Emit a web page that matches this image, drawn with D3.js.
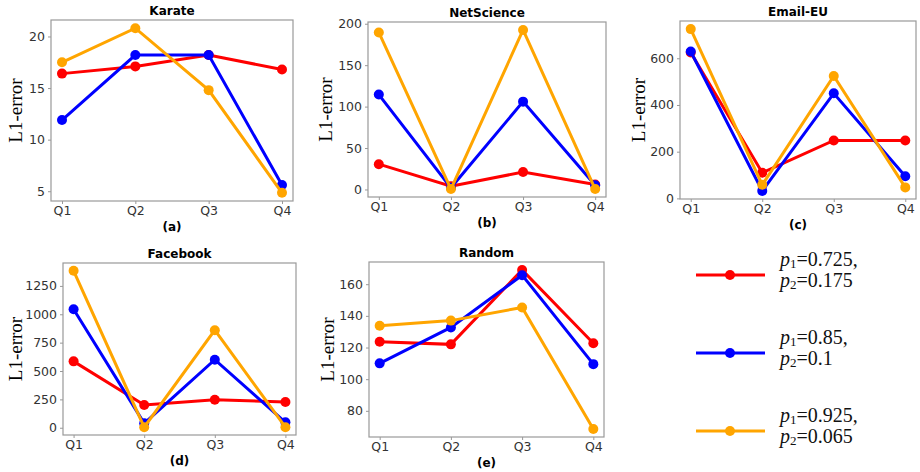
<!DOCTYPE html>
<html lang="en">
  <head>
    <meta charset="UTF-8" />
    <title>L1-error by quarter</title>
    <style>
      body {
        margin: 0;
        background: #ffffff;
      }
      .tick text {
        font-family: "DejaVu Sans", sans-serif;
        font-size: 12.5px;
        fill: #333;
      }
      .tick line,
      .domain {
        stroke: #999;
      }
    </style>
  </head>
  <body>
    <div id="chart"></div>
    <script src="https://d3js.org/d3.v7.min.js"></script>
    <script>
      // data
      const quarters = ["Q1", "Q2", "Q3", "Q4"];
      const datasets = ["Karate", "NetScience", "Email-EU", "Facebook", "Random"];
      const panelTags = ["(a)", "(b)", "(c)", "(d)", "(e)"];
      const seriesNames = [
        ["0.725", "0.175"],
        ["0.85", "0.1"],
        ["0.925", "0.065"]
      ];
      const seriesColors = ["#ff0000", "#0000ff", "#ffa500"];

      const karate = [
        [16.4, 17.1, 18.2, 16.8],
        [11.9, 18.2, 18.2, 5.6],
        [17.5, 20.8, 14.8, 4.85]
      ];
      const netScience = [
        [30.5, 4, 21, 6],
        [114.5, 2, 106, 5],
        [189.5, 0.5, 192.5, 0.5]
      ];
      const emailEU = [
        [625, 110, 248, 248],
        [629, 32, 450, 95],
        [725, 58, 524, 47]
      ];
      const facebook = [
        [585, 201, 246, 227],
        [1045, 39, 600, 48],
        [1383, 5, 860, 5]
      ];
      const random = [
        [123.7, 122, 169, 122.7],
        [110, 132.7, 165.7, 109.5],
        [133.8, 137, 145.3, 68.5]
      ];
      const allValues = [karate, netScience, emailEU, facebook, random];

      const yTicks = [
        [5, 10, 15, 20],
        [0, 50, 100, 150, 200],
        [0, 200, 400, 600],
        [0, 250, 500, 750, 1000, 1250],
        [80, 100, 120, 140, 160]
      ];

      // layout: frame of each axes box [left, top, right, bottom]
      const frames = [
        [51, 20, 293, 201],
        [368, 22, 606, 197],
        [680, 21, 916, 199],
        [63, 263, 296, 435],
        [369, 262, 604, 437]
      ];
      const labelX = [15, 325, 638, 15, 327];

      const width = 920;
      const height = 472;

      const svg = d3
        .select("#chart")
        .append("svg")
        .attr("width", width)
        .attr("height", height);

      datasets.forEach(function (name, i) {
        const [x0, y0, x1, y1] = frames[i];
        const values = allValues[i];
        const flat = values.flat();
        const lo = d3.min(flat);
        const hi = d3.max(flat);
        const pad = (hi - lo) * 0.05;

        const x = d3.scalePoint().domain(quarters).range([x0, x1]).padding(0.15);
        const y = d3.scaleLinear().domain([lo - pad, hi + pad]).range([y1, y0]);

        const g = svg.append("g");

        // frame
        g.append("rect")
          .attr("x", x0)
          .attr("y", y0)
          .attr("width", x1 - x0)
          .attr("height", y1 - y0)
          .attr("fill", "none")
          .attr("stroke", "#999")
          .attr("stroke-width", 1.2);

        g.append("g")
          .attr("transform", "translate(0," + y1 + ")")
          .call(d3.axisBottom(x).tickSize(3).tickPadding(2))
          .call((s) => s.select(".domain").remove());

        g.append("g")
          .attr("transform", "translate(" + x0 + ",0)")
          .call(
            d3
              .axisLeft(y)
              .tickValues(yTicks[i])
              .tickFormat(d3.format("d"))
              .tickSize(3)
              .tickPadding(3)
          )
          .call((s) => s.select(".domain").remove());

        // title and tag
        g.append("text")
          .attr("x", (x0 + x1) / 2)
          .attr("y", y0 - 5)
          .attr("text-anchor", "middle")
          .style("font-family", "DejaVu Sans, sans-serif")
          .style("font-weight", "bold")
          .style("font-size", "12px")
          .text(name);

        g.append("text")
          .attr("x", (x0 + x1) / 2)
          .attr("y", y1 + 30)
          .attr("text-anchor", "middle")
          .style("font-family", "DejaVu Sans, sans-serif")
          .style("font-weight", "bold")
          .style("font-size", "12px")
          .text(panelTags[i]);

        g.append("text")
          .attr(
            "transform",
            "translate(" + labelX[i] + "," + (y0 + y1) / 2 + ") rotate(-90)"
          )
          .attr("text-anchor", "middle")
          .attr("dy", "0.35em")
          .style("font-family", "Liberation Serif, serif")
          .style("font-size", "19px")
          .text("L1-error");

        const line = d3
          .line()
          .x((d, j) => x(quarters[j]))
          .y((d) => y(d));

        values.forEach(function (series, k) {
          g.append("path")
            .datum(series)
            .attr("d", line)
            .attr("fill", "none")
            .attr("stroke", seriesColors[k])
            .attr("stroke-width", 3);

          g.selectAll(null)
            .data(series)
            .join("circle")
            .attr("cx", (d, j) => x(quarters[j]))
            .attr("cy", (d) => y(d))
            .attr("r", 5)
            .attr("fill", seriesColors[k]);
        });
      });

      // legend
      const legendY = [275, 353, 431];
      const legend = svg.append("g");
      seriesNames.forEach(function (p, k) {
        const ly = legendY[k];
        legend
          .append("line")
          .attr("x1", 696)
          .attr("x2", 765)
          .attr("y1", ly)
          .attr("y2", ly)
          .attr("stroke", seriesColors[k])
          .attr("stroke-width", 3);
        legend
          .append("circle")
          .attr("cx", 730)
          .attr("cy", ly)
          .attr("r", 5)
          .attr("fill", seriesColors[k]);

        p.forEach(function (v, m) {
          const t = legend
            .append("text")
            .attr("x", 780)
            .attr("y", ly - 9 + m * 21)
            .style("font-family", "Liberation Serif, serif")
            .style("font-size", "20px")
            .attr("fill", "#111");
          t.append("tspan").style("font-style", "italic").text("p");
          t.append("tspan")
            .attr("dy", 2)
            .style("font-size", "13px")
            .text(m + 1);
          t.append("tspan")
            .attr("dy", -2)
            .text("=" + v + (m === 0 ? "," : ""));
        });
      });
    </script>
  </body>
</html>
